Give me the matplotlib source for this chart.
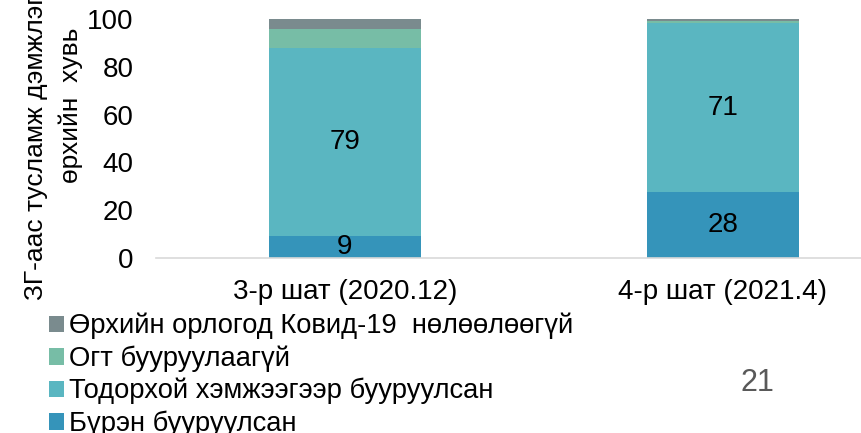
import matplotlib.pyplot as plt
import numpy as np

plt.rcParams['font.family'] = ['Liberation Sans', 'DejaVu Sans']

categories = ['3-р шат (2020.12)', '4-р шат (2021.4)']
series_names = ['Бүрэн бууруулсан',
                'Тодорхой хэмжээгээр бууруулсан',
                'Огт бууруулаагүй',
                'Өрхийн орлогод Ковид-19  нөлөөлөөгүй']
full = [9, 27.6]
partial = [79, 70.6]
none_ = [8, 1.0]
no_effect = [4, 0.8]
colors = ['#3594ba', '#5ab6c1', '#77bda6', '#7a8b8e']

values = [full, partial, none_, no_effect]
x = np.arange(len(categories))

fig = plt.figure(figsize=(8.61, 4.33), dpi=100)
ax = fig.add_axes([156 / 861, 1 - 258 / 433, 756 / 861, 239 / 433])

bottom = np.zeros(len(categories))
handles = []
for name, vals, c in zip(series_names, values, colors):
    bars = ax.bar(x, vals, 0.4, bottom=bottom, color=c, label=name,
                  linewidth=0)
    handles.append(bars)
    if name in series_names[:2]:
        for xi, b, v in zip(x, bottom, vals):
            ax.text(xi, b + v / 2, f'{v:.0f}', ha='center', va='center',
                    fontsize=20, color='black')
    bottom += np.array(vals)

ax.set_xlim(-0.5, 1.5)
ax.set_ylim(0, 100)
ax.set_yticks([0, 20, 40, 60, 80, 100])
ax.set_xticks(x)
ax.set_xticklabels(categories)
ax.tick_params(axis='both', length=0, labelsize=20)
ax.tick_params(axis='y', pad=16)
ax.tick_params(axis='x', pad=15)
for s in ['top', 'right', 'left']:
    ax.spines[s].set_visible(False)
ax.spines['bottom'].set_color('#d9d9d9')
ax.spines['bottom'].set_linewidth(1.2)

# y label in two lines, the first one runs off the top like in the original
fig.text(36 / 861, 1 - 108 / 433, 'ЗГ-аас тусламж дэмжлэг авсан',
         rotation=90, ha='center', va='center', fontsize=19)
fig.text(71 / 861, 1 - 105 / 433, 'өрхийн  хувь',
         rotation=90, ha='center', va='center', fontsize=19)

fig.legend(handles[::-1], series_names[::-1], loc='upper left',
           bbox_to_anchor=(38 / 861, 1 - 302 / 433), frameon=False,
           fontsize=19.7, handlelength=0.55, handleheight=0.55,
           handletextpad=0.2, labelspacing=0.22, borderaxespad=0)

fig.text(757 / 861, 1 - 383 / 433, '21', ha='center', va='center',
         fontsize=22, color='#595959')

fig.savefig('out.png', dpi=100)
